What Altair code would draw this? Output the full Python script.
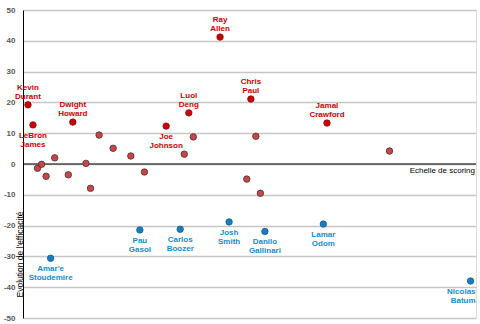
import altair as alt
import pandas as pd

# Labelled red players (scoring scale position, efficiency change)
red_names = ["Kevin\nDurant", "LeBron\nJames", "Dwight\nHoward", "Joe\nJohnson",
             "Luol\nDeng", "Ray\nAllen", "Chris\nPaul", "Jamal\nCrawford"]
red_x = [1.1, 2.2, 11.0, 31.6, 36.6, 43.5, 50.3, 67.1]
red_y = [19.2, 12.7, 13.6, 12.3, 16.6, 41.2, 21.1, 13.3]
red_pos = ["above", "below", "above", "below", "above", "above", "above", "above"]

# Unlabelled players
plain_x = [3.2, 4.1, 5.1, 7.0, 10.0, 13.9, 14.9, 16.8, 19.9, 23.8, 26.8,
           35.6, 37.6, 51.4, 49.4, 52.4, 80.9]
plain_y = [-1.4, -0.1, -4.0, 2.0, -3.5, 0.2, -7.9, 9.4, 5.1, 2.6, -2.6,
           3.2, 8.8, 9.0, -4.9, -9.5, 4.2]

# Labelled blue players
blue_names = ["Amar'e\nStoudemire", "Pau\nGasol", "Carlos\nBoozer", "Josh\nSmith",
              "Danilo\nGallinari", "Lamar\nOdom", "Nicolas\nBatum"]
blue_x = [6.1, 25.8, 34.7, 45.5, 53.4, 66.3, 98.8]
blue_y = [-30.6, -21.4, -21.2, -18.8, -21.9, -19.5, -38.0]
blue_pos = ["below", "below", "below", "below", "below", "below", "belowright"]

y_ticks = [-50, -40, -30, -20, -10, 0, 10, 20, 30, 40, 50]

rows = []
for n, x, y, p in zip(red_names, red_x, red_y, red_pos):
    rows.append({"name": n, "x": x, "y": y, "group": "red", "pos": p})
for x, y in zip(plain_x, plain_y):
    rows.append({"name": "", "x": x, "y": y, "group": "plain", "pos": "none"})
for n, x, y, p in zip(blue_names, blue_x, blue_y, blue_pos):
    rows.append({"name": n, "x": x, "y": y, "group": "blue", "pos": p})
df = pd.DataFrame(rows)

xs = alt.Scale(domain=[0, 100], nice=False, zero=False)
ys = alt.Scale(domain=[-50, 50], nice=False)

y_axis = alt.Axis(
    values=y_ticks, ticks=False, domain=True, domainColor="#000000", domainWidth=1,
    grid=True, gridColor="#c6c6c6", gridWidth=1.5, labelOverlap=False,
    labelColor="#595959", labelFont="Liberation Sans", labelFontWeight="bold",
    labelFontSize=8, labelPadding=8, labelExpr="'' + datum.value",
    title="Evolution de l'efficacité", titleFont="Liberation Sans",
    titleFontWeight="normal", titleFontSize=8.5, titleColor="#000000",
    titleAngle=-90, titleX=-0.5, titleY=244, titleAlign="center",
    titleBaseline="alphabetic")

X = alt.X("x:Q", scale=xs, axis=None)
Y = alt.Y("y:Q", scale=ys, axis=y_axis)

base = alt.Chart(df)

zero_rule = alt.Chart(pd.DataFrame({"y": [0]})).mark_rule(
    color="#000000", strokeWidth=1.2).encode(y=Y)

groups = ["red", "plain", "blue"]
points = base.mark_circle(size=42, opacity=1, strokeWidth=0.8).encode(
    x=X, y=Y,
    fill=alt.Fill("group:N", scale=alt.Scale(domain=groups,
                  range=["#cc0000", "#c9454a", "#1b7bbd"]), legend=None),
    stroke=alt.Stroke("group:N", scale=alt.Scale(domain=groups,
                      range=["#8a1010", "#4a3030", "#1b5f90"]), legend=None),
)

text_color = alt.Color("group:N", scale=alt.Scale(domain=["red", "blue"],
                       range=["#cc0000", "#1a8acb"]), legend=None)
tkw = dict(font="Liberation Sans", fontWeight="bold", fontSize=8,
           lineBreak="\n", lineHeight=9)

above = base.transform_filter(alt.datum.pos == "above").mark_text(
    align="center", baseline="bottom", dy=-13, **tkw).encode(
    x=X, y=Y, text="name:N", color=text_color)
below = base.transform_filter(alt.datum.pos == "below").mark_text(
    align="center", baseline="top", dy=7, **tkw).encode(
    x=X, y=Y, text="name:N", color=text_color)
below_r = base.transform_filter(alt.datum.pos == "belowright").mark_text(
    align="right", baseline="top", dy=7, dx=5, **tkw).encode(
    x=X, y=Y, text="name:N", color=text_color)

xlabel = alt.Chart(pd.DataFrame({"x": [100], "y": [0], "t": ["Echelle de scoring"]})).mark_text(
    align="right", baseline="top", dy=3, dx=-1, font="Liberation Sans",
    fontSize=8, color="#000000").encode(
    x=X, y=Y, text="t:N")

chart = alt.layer(zero_rule, points, above, below, below_r, xlabel).properties(
    width=453, height=308,
    autosize=alt.AutoSizeParams(type="none"),
    padding={"left": 23, "top": 10, "right": 4, "bottom": 6},
).configure_view(strokeWidth=0, stroke="transparent").configure(background="#ffffff")

chart.save("out.html", embed_options={"renderer": "svg", "actions": False})
